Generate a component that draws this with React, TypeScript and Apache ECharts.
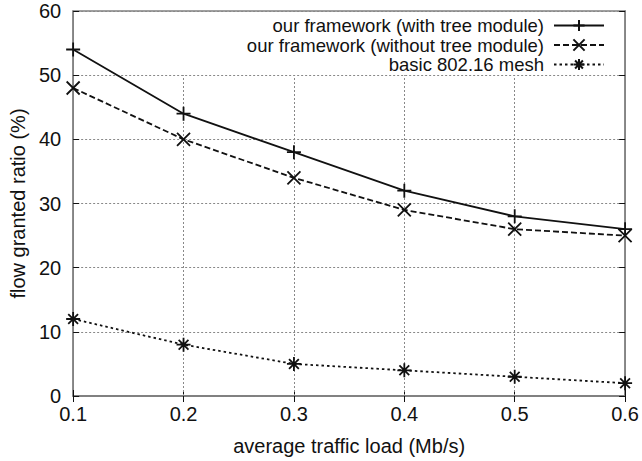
import React, { useEffect, useRef } from "react";
import * as echarts from "echarts";

// average traffic load (Mb/s)
const loads = [0.1, 0.2, 0.3, 0.4, 0.5, 0.6];
// flow granted ratio (%)
const withTree = [54, 44, 38, 32, 28, 26];
const withoutTree = [48, 40, 34, 29, 26, 25];
const basicMesh = [12, 8, 5, 4, 3, 2];

const seriesNames = [
  "our framework (with tree module)",
  "our framework (without tree module)",
  "basic 802.16 mesh",
];

// vertical grid lines stop at the 50% line, below the key
const gridX = [0.2, 0.3, 0.4, 0.5];
const gridTop = 50;

const PLUS = "path://M0,5L10,5M5,0L5,10";
const CROSS = "path://M0,0L10,10M10,0L0,10";
const STAR = "path://M0,5L10,5M5,0L5,10M1.5,1.5L8.5,8.5M8.5,1.5L1.5,8.5";

const FONT = "'Liberation Sans', Arial, Helvetica, sans-serif";
const INK = "#111";
const FRAME = "#808080";

export default function App() {
  const ref = useRef<HTMLDivElement>(null);

  useEffect(() => {
    document.body.style.margin = "0";
    if (!ref.current) return;
    const chart = echarts.init(ref.current, null, { renderer: "svg" });

    const mkSeries = (
      name: string,
      values: number[],
      symbol: string,
      size: number,
      type: "solid" | number[],
      extra: any = {}
    ) => ({
      name,
      type: "line",
      data: loads.map((x, i) => [x, values[i]]),
      symbol,
      symbolSize: size,
      showSymbol: true,
      lineStyle: { color: INK, width: 1.8, type },
      itemStyle: { color: INK, borderColor: INK, borderWidth: 1.8 },
      z: 5,
      ...extra,
    });

    const legendCfg = (name: string, top: number) => ({
      data: [name],
      right: 37,
      top,
      orient: "vertical",
      align: "right",
      itemWidth: 50,
      itemHeight: 14,
      padding: 0,
      textStyle: {
        fontFamily: FONT,
        fontSize: 18.5,
        lineHeight: 19,
        color: INK,
        padding: [0, 5, 0, 0],
      },
      selectedMode: false,
    });

    chart.setOption({
      animation: false,
      backgroundColor: "#fff",
      grid: {
        left: 72,
        right: 16,
        top: 11,
        bottom: 59,
        show: true,
        borderColor: FRAME,
        borderWidth: 1.5,
        backgroundColor: "transparent",
      },
      legend: [
        legendCfg(seriesNames[0], 16),
        legendCfg(seriesNames[1], 35.5),
        legendCfg(seriesNames[2], 55),
      ],
      xAxis: [
        {
          type: "value",
          min: 0.1,
          max: 0.6,
          interval: 0.1,
          name: "average traffic load (Mb/s)",
          nameLocation: "middle",
          nameGap: 40,
          nameTextStyle: { fontFamily: FONT, fontSize: 20, color: INK },
          axisLine: { show: true, lineStyle: { color: FRAME, width: 1.5 } },
          axisTick: { show: true, inside: true, length: 6, lineStyle: { color: INK } },
          axisLabel: {
            fontFamily: FONT,
            fontSize: 20,
            color: INK,
            margin: 8,
            formatter: (v: number) => v.toFixed(1),
          },
          splitLine: { show: false },
        },
        {
          type: "value",
          position: "top",
          min: 0.1,
          max: 0.6,
          interval: 0.1,
          axisLine: { show: true, lineStyle: { color: FRAME, width: 1.5 } },
          axisTick: { show: true, inside: true, length: 6, lineStyle: { color: INK } },
          axisLabel: { show: false },
          splitLine: { show: false },
        },
      ],
      yAxis: [
        {
          type: "value",
          min: 0,
          max: 60,
          interval: 10,
          name: "flow granted ratio (%)",
          nameLocation: "middle",
          nameGap: 45,
          nameTextStyle: { fontFamily: FONT, fontSize: 20, color: INK },
          axisLine: { show: true, lineStyle: { color: FRAME, width: 1.5 } },
          axisTick: { show: true, inside: true, length: 6, lineStyle: { color: INK } },
          axisLabel: { fontFamily: FONT, fontSize: 20, color: INK, margin: 12 },
          splitLine: {
            show: true,
            lineStyle: { color: "#888", width: 1, type: [2, 2] },
          },
        },
        {
          type: "value",
          position: "right",
          min: 0,
          max: 60,
          interval: 10,
          axisLine: { show: true, lineStyle: { color: FRAME, width: 1.5 } },
          axisTick: { show: true, inside: true, length: 6, lineStyle: { color: INK } },
          axisLabel: { show: false },
          splitLine: { show: false },
        },
      ],
      series: [
        mkSeries(seriesNames[0], withTree, PLUS, 14, "solid", {
          markLine: {
            silent: true,
            symbol: "none",
            label: { show: false },
            lineStyle: { color: "#888", width: 1, type: [2, 2] },
            z: 1,
            data: gridX.map((x) => [
              { coord: [x, 0] },
              { coord: [x, gridTop] },
            ]),
          },
        }),
        mkSeries(seriesNames[1], withoutTree, CROSS, 13, [6, 3]),
        mkSeries(seriesNames[2], basicMesh, STAR, 14, [2.5, 3]),
      ],
    });

    return () => chart.dispose();
  }, []);

  return <div ref={ref} style={{ width: 642, height: 461 }} />;
}
